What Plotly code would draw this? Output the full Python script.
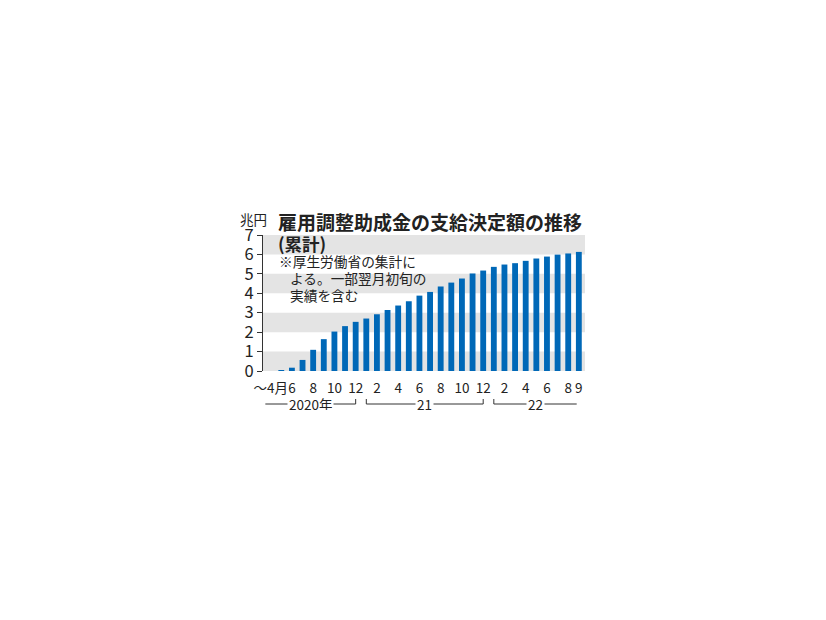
import plotly.graph_objects as go

# ---- data ----
month_nums = [4, 5, 6, 7, 8, 9, 10, 11, 12,
              1, 2, 3, 4, 5, 6, 7, 8, 9, 10, 11, 12,
              1, 2, 3, 4, 5, 6, 7, 8, 9]
years = [2020] * 9 + [2021] * 12 + [2022] * 9
values = [0.0, 0.03, 0.17, 0.57, 1.09, 1.64, 2.03, 2.31, 2.53,
          2.70, 2.92, 3.14, 3.37, 3.59, 3.88, 4.07, 4.35, 4.55, 4.76, 5.02, 5.17,
          5.36, 5.48, 5.55, 5.67, 5.79, 5.89, 5.99, 6.05, 6.13]
tick_index = [0, 2, 4, 6, 8, 10, 12, 14, 16, 18, 20, 22, 24, 26, 28, 29]
tick_text = ["〜4月", "6", "8", "10", "12", "2", "4", "6", "8", "10", "12",
             "2", "4", "6", "8", "9"]
year_labels = {2020: "2020年", 2021: "21", 2022: "22"}
y_ticks = [0, 1, 2, 3, 4, 5, 6, 7]

title_text = "雇用調整助成金の支給決定額の推移"
subtitle_text = "(累計)"
note_lines = ["※厚生労働省の集計に", "よる。一部翌月初旬の", "実績を含む"]
unit_text = "兆円"

# ---- layout geometry (page pixels; body margin offset compensated) ----
OFF = 8
W, H = 826 - 2 * OFF, 620 - 2 * OFF
PL, PR, PT, PB = 263 - OFF, 585 - OFF, 235 - OFF, 371 - OFF
FONT = "Noto Sans CJK JP"
TXT = "#222222"
BLUE = "#0068b7"


def px(xp):
    return (xp - OFF - PL) / (PR - PL)


def py(yp):
    return (PB - (yp - OFF)) / (PB - PT)


x = list(range(len(values)))

fig = go.Figure()
fig.add_bar(x=x, y=values, marker=dict(color=BLUE, line=dict(width=0)),
            width=0.55, hoverinfo="skip")
fig.add_scatter(x=x, y=[-0.24] * len(x), mode="markers",
                marker=dict(size=3, color="#333333"),
                cliponaxis=False, hoverinfo="skip")

shapes = []
for k in range(0, 7, 2):
    shapes.append(dict(type="rect", xref="paper", yref="y", x0=0, x1=1,
                       y0=k, y1=k + 1, fillcolor="#e4e4e4",
                       line=dict(width=0), layer="below"))

# year brackets
line_y = py(404)
hook_y = py(399)
groups = []
for yr in sorted(set(years)):
    idx = [i for i, v in enumerate(years) if v == yr]
    groups.append((yr, idx[0], idx[-1]))

annotations = []
for gi, (yr, first, last) in enumerate(groups):
    x0 = first - 0.5 if gi == 0 else first
    x1 = last - 0.2 if gi == len(groups) - 1 else last
    shapes.append(dict(type="line", xref="x", yref="paper", x0=x0, x1=x1,
                       y0=line_y, y1=line_y, line=dict(color="#333333", width=1)))
    if gi > 0:
        shapes.append(dict(type="line", xref="x", yref="paper", x0=first, x1=first,
                           y0=line_y, y1=hook_y, line=dict(color="#333333", width=1)))
    if gi < len(groups) - 1:
        shapes.append(dict(type="line", xref="x", yref="paper", x0=last, x1=last,
                           y0=line_y, y1=hook_y, line=dict(color="#333333", width=1)))
    annotations.append(dict(text=year_labels[yr], xref="x", yref="paper",
                            x=(x0 + x1) / 2, y=line_y, showarrow=False,
                            xanchor="center", yanchor="middle",
                            bgcolor="white", borderpad=1, height=12,
                            font=dict(family=FONT, size=13.5, color=TXT)))

annotations.append(dict(text="<b>" + title_text + "</b>", xref="paper", yref="paper",
                        x=px(276), y=py(221), xanchor="left", yanchor="middle",
                        showarrow=False, font=dict(family=FONT, size=19, color=TXT)))
annotations.append(dict(text="<b>" + subtitle_text + "</b>", xref="paper", yref="paper",
                        x=px(276), y=py(243), xanchor="left", yanchor="middle",
                        showarrow=False, font=dict(family=FONT, size=17.5, color=TXT)))
annotations.append(dict(text=unit_text, xref="paper", yref="paper",
                        x=px(253), y=py(219), xanchor="center", yanchor="middle",
                        showarrow=False, font=dict(family=FONT, size=13.5, color=TXT)))
note_pos = [(277, 261), (288, 278), (288, 295)]
for t, (nx, ny) in zip(note_lines, note_pos):
    annotations.append(dict(text=t, xref="paper", yref="paper",
                            x=px(nx), y=py(ny), xanchor="left", yanchor="middle",
                            showarrow=False, font=dict(family=FONT, size=13.7, color=TXT)))

fig.update_layout(
    width=W, height=H,
    margin=dict(l=PL, r=W - PR, t=PT, b=H - PB, pad=0, autoexpand=False),
    paper_bgcolor="white", plot_bgcolor="white",
    showlegend=False, bargap=0.45,
    shapes=shapes, annotations=annotations,
    font=dict(family=FONT, color=TXT),
)
fig.update_xaxes(range=[-0.72, 29.58], tickmode="array", tickvals=tick_index,
                 ticktext=tick_text, ticks="outside", ticklen=5, tickangle=0,
                 tickcolor="rgba(0,0,0,0)", showgrid=False, zeroline=False,
                 showline=False, tickfont=dict(family=FONT, size=13.5, color=TXT))
fig.update_yaxes(range=[0, 7], tickmode="array", tickvals=y_ticks,
                 ticks="outside", ticklen=5, tickcolor="#333333", tickwidth=1,
                 showline=True, linecolor="#333333", linewidth=1,
                 showgrid=False, zeroline=False,
                 tickfont=dict(family=FONT, size=16.5, color=TXT))

fig.write_html("out.html")
